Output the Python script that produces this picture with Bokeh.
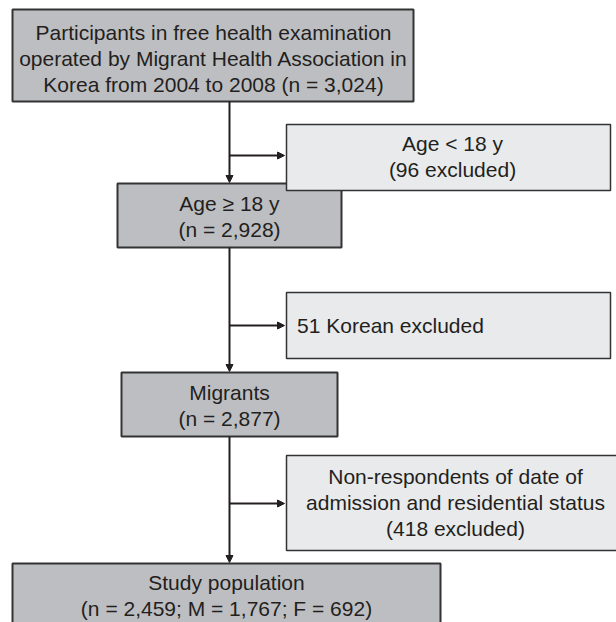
from bokeh.plotting import figure
from bokeh.models import Range1d, Arrow, NormalHead
from bokeh.core.properties import value
from bokeh.embed import file_html
from bokeh.resources import INLINE

# ---- data ----
main_labels = [
    "Participants in free health examination\noperated by Migrant Health Association in\nKorea from 2004 to 2008 (n = 3,024)",
    "Age \u2265 18 y\n(n = 2,928)",
    "Migrants\n(n = 2,877)",
    "Study population\n(n = 2,459; M = 1,767; F = 692)",
]
side_labels = [
    "Age < 18 y\n(96 excluded)",
    "51 Korean excluded",
    "Non-respondents of date of\nadmission and residential status\n(418 excluded)",
]

# ---- layout (picture pixel coordinates) ----
main_left = [12, 117, 121, 12]
main_right = [413, 341, 337, 440]
main_top = [9, 183, 372, 563]
main_bottom = [101, 247, 436, 700]
main_cx = [213, 229, 229, 226]
main_cy = [58, 216, 405, 595]

side_left = [286, 286, 286]
side_right = [610, 610, 660]
side_top = [124, 292, 455]
side_bottom = [190, 358, 550]
side_cx = [452, 390, 455]
side_cy = [156, 325, 502]
arrow_y = [155, 325, 503]

spine_x = 229
FONT = "Liberation Sans"
FS = "21px"
W, H = 616, 622

p = figure(width=W, height=H, output_backend="svg", toolbar_location=None,
           x_range=Range1d(0, W), y_range=Range1d(H, 0),
           min_border=0, outline_line_color=None)
p.axis.visible = False
p.grid.visible = False
p.background_fill_color = "white"

# boxes
p.quad(left=main_left, right=main_right, top=main_top, bottom=main_bottom,
       fill_color="#bdbec1", line_color="#333333", line_width=2)
p.quad(left=side_left, right=side_right, top=side_top, bottom=side_bottom,
       fill_color="#e9eaeb", line_color="#333333", line_width=1.5)

# vertical arrows between main boxes
for i in range(len(main_labels) - 1):
    p.add_layout(Arrow(x_start=spine_x, y_start=main_bottom[i], x_end=spine_x, y_end=main_top[i + 1] - 1,
                       line_color="#231f20", line_width=2,
                       end=NormalHead(size=7, fill_color="#231f20", line_color="#231f20")))
# horizontal arrows to exclusion boxes
for j in range(len(side_labels)):
    p.add_layout(Arrow(x_start=spine_x, y_start=arrow_y[j], x_end=side_left[j] - 2, y_end=arrow_y[j],
                       line_color="#231f20", line_width=2,
                       end=NormalHead(size=7, fill_color="#231f20", line_color="#231f20")))

# texts
p.text(x=main_cx, y=main_cy, text=main_labels, text_align="center", text_baseline="middle",
       text_font=value(FONT), text_font_size=FS, text_color="#231f20", text_line_height=1.15)
p.text(x=side_cx, y=side_cy, text=side_labels, text_align="center", text_baseline="middle",
       text_font=value(FONT), text_font_size=FS, text_color="#231f20", text_line_height=1.15)

open("out.html", "w").write(file_html(p, INLINE))
